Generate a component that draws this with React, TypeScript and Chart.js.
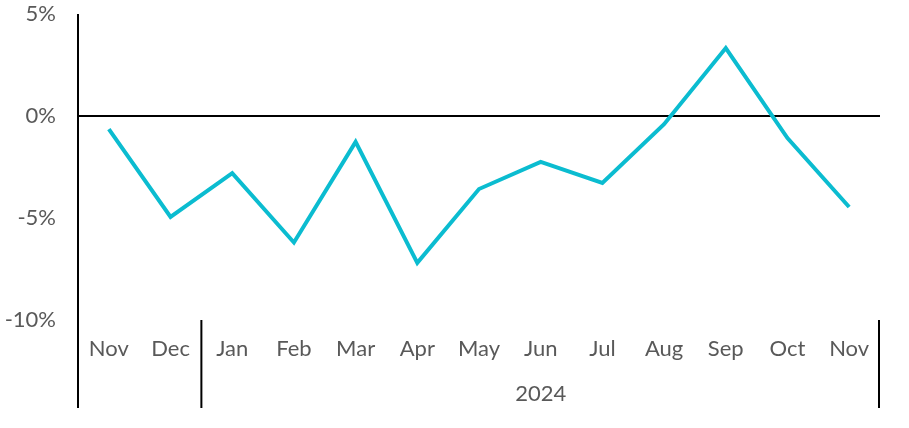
import React, { useEffect, useRef } from "react";
import { Chart, registerables } from "chart.js";

Chart.register(...registerables);

const months = ["Nov", "Dec", "Jan", "Feb", "Mar", "Apr", "May", "Jun", "Jul", "Aug", "Sep", "Oct", "Nov"];
const values = [-0.64, -4.95, -2.8, -6.2, -1.27, -7.2, -3.58, -2.25, -3.28, -0.4, 3.33, -1.08, -4.46];
const groupLabel = "2024";
const groupStartIndex = 2;

const TEXT = "#595959";
const FONT = "Lato, 'Open Sans', sans-serif";
const FS = 22;

const groupPlugin = {
  id: "groupLines",
  afterDraw(chart: any) {
    const { ctx, chartArea } = chart;
    const xs = chart.scales.x;
    const bottom = chart.height - 20;
    ctx.save();
    ctx.strokeStyle = "#000";
    ctx.lineWidth = 2;
    const sep = (xs.getPixelForValue(groupStartIndex - 1) + xs.getPixelForValue(groupStartIndex)) / 2;
    ctx.beginPath();
    ctx.moveTo(chartArea.left, chartArea.top);
    ctx.lineTo(chartArea.left, bottom);
    ctx.moveTo(sep, chartArea.bottom);
    ctx.lineTo(sep, bottom);
    ctx.moveTo(chartArea.right - 1, chartArea.bottom);
    ctx.lineTo(chartArea.right - 1, bottom);
    ctx.stroke();
    ctx.fillStyle = TEXT;
    ctx.font = FS + "px " + FONT;
    ctx.textAlign = "center";
    ctx.textBaseline = "middle";
    ctx.fillText(groupLabel, (sep + chartArea.right) / 2, 394);
    ctx.restore();
  },
};

export default function App() {
  const ref = useRef<HTMLCanvasElement>(null);
  useEffect(() => {
    document.body.style.margin = "0";
    const chart = new Chart(ref.current!, {
      type: "line",
      data: {
        labels: months,
        datasets: [
          {
            data: values,
            borderColor: "#0BBCD0",
            borderWidth: 4,
            pointRadius: 0,
            tension: 0,
            fill: false,
          },
        ],
      },
      options: {
        animation: false,
        responsive: false,
        maintainAspectRatio: false,
        layout: { padding: { top: 14, right: 29, left: 0, bottom: 0 } },
        plugins: { legend: { display: false }, tooltip: { enabled: false } },
        scales: {
          x: {
            offset: true,
            grid: { display: false, drawTicks: false },
            border: { display: false },
            ticks: { color: TEXT, font: { family: FONT, size: FS }, padding: 16, maxRotation: 0, autoSkip: false },
            afterFit(scale: any) {
              scale.height = 108;
              scale.paddingLeft = 0;
              scale.paddingRight = 0;
            },
          },
          y: {
            min: -10,
            max: 5,
            grid: {
              drawTicks: false,
              color: (c: any) => (c.tick && c.tick.value === 0 ? "#000" : "rgba(0,0,0,0)"),
              lineWidth: 2,
            },
            border: { display: false },
            ticks: {
              stepSize: 5,
              color: TEXT,
              font: { family: FONT, size: FS },
              padding: 22,
              callback: (v: any) => v + "%",
            },
            afterFit(scale: any) {
              scale.width = 78;
              scale.paddingTop = 0;
              scale.paddingBottom = 0;
            },
          },
        },
      },
      plugins: [groupPlugin],
    });
    return () => chart.destroy();
  }, []);
  return (
    <div style={{ width: 909, height: 428 }}>
      <canvas ref={ref} width={909} height={428} style={{ display: "block" }} />
    </div>
  );
}
